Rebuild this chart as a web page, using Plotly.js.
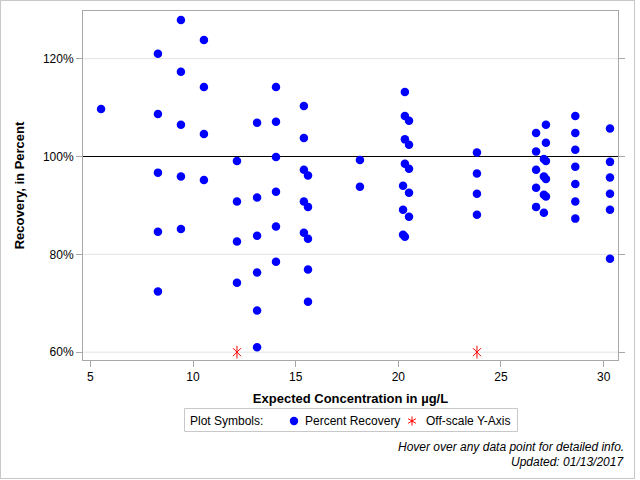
<!DOCTYPE html>
<html>
<head>
<meta charset="utf-8">
<script src="https://cdn.plot.ly/plotly-3.0.1.min.js"></script>
<style>
  html, body { margin: 0; padding: 0; background: #fff; }
  #wrap { position: relative; width: 640px; height: 480px; }
  #chart { width: 640px; height: 480px; }
  #frame { position: absolute; left: 0; top: 0; width: 633px; height: 477px;
           border: 1px solid #c8c8c8; pointer-events: none; }
</style>
</head>
<body>
<div id="wrap">
  <div id="chart"></div>
  <div id="frame"></div>
</div>
<script>
// Expected concentration (µg/L) for each spiked sample
const recoveryConc = [
  5.52,
  8.29, 8.29, 8.29, 8.29, 8.29,
  9.41, 9.41, 9.41, 9.41, 9.41,
  10.53, 10.53, 10.53, 10.53,
  12.14, 12.14, 12.14, 12.14,
  13.12, 13.12, 13.12, 13.12, 13.12, 13.12,
  14.04, 14.04, 14.04, 14.04, 14.04, 14.04,
  15.40, 15.40, 15.40, 15.40, 15.40,
  15.60, 15.60, 15.60, 15.60, 15.60,
  18.13, 18.13,
  20.23, 20.23, 20.23,
  20.32, 20.32, 20.32, 20.32, 20.32,
  20.52, 20.52, 20.52, 20.52, 20.52,
  23.83, 23.83, 23.83, 23.83,
  26.71, 26.71, 26.71, 26.71, 26.71,
  27.09, 27.09, 27.09, 27.09,
  27.19, 27.19, 27.19, 27.19, 27.19,
  28.62, 28.62, 28.62, 28.62, 28.62, 28.62, 28.62,
  30.31, 30.31, 30.31, 30.31, 30.31, 30.31
];

// Percent recovery measured for each sample
const recoveryPct = [
  109.7,
  121.0, 108.7, 96.7, 84.6, 72.4,
  127.9, 117.3, 106.5, 95.9, 85.2,
  123.8, 114.2, 104.6, 95.2,
  99.1, 90.8, 82.6, 74.2,
  106.9, 91.6, 83.8, 76.3, 68.5, 61.0,
  114.2, 107.1, 99.9, 92.8, 85.7, 78.5,
  110.3, 103.8, 97.3, 90.8, 84.4,
  96.1, 89.7, 83.2, 76.9, 70.3,
  99.3, 93.8,
  94.0, 89.1, 84.0,
  113.2, 108.3, 103.5, 98.5, 83.6,
  107.3, 102.4, 97.5, 92.6, 87.7,
  100.8, 96.5, 92.4, 88.1,
  104.8, 101.0, 97.3, 93.6, 89.7,
  99.5, 95.9, 92.2, 88.5,
  106.5, 102.8, 99.1, 95.4, 91.8,
  108.3, 104.8, 101.4, 97.9, 94.4, 90.8, 87.3,
  105.7, 98.9, 95.7, 92.4, 89.1, 79.1
];

// Samples whose recovery falls below the plotted range, pinned to the floor
const offscaleConc = [12.14, 23.83];
const offscalePct = [60, 60];

const yTickVals = [60, 80, 100, 120];
const yTickText = yTickVals.map(v => v + '%');
const xTickVals = [5, 10, 15, 20, 25, 30];
const targetPct = 100;

const legendLabels = ['Percent Recovery', 'Off-scale Y-Axis'];

const font = "Arial, 'Liberation Sans', sans-serif";
const BLUE = '#0000ff';
const RED = '#ff0000';

// plot-area geometry in pixels, used to place the key below the axes
const M = { l: 83, r: 22, t: 11, b: 120 };
const PW = 640 - M.l - M.r, PH = 480 - M.t - M.b;
const px = x => (x - M.l) / PW;
const py = y => (480 - M.b - y) / PH;

const traces = [
  {
    type: 'scatter', mode: 'markers', name: legendLabels[0],
    x: recoveryConc, y: recoveryPct,
    marker: { color: BLUE, size: 8.5, symbol: 'circle' },
    hovertemplate: 'Expected: %{x} µg/L<br>Recovery: %{y}%<extra></extra>'
  },
  // six-spoke asterisk: a vertical stroke plus a thin X
  {
    type: 'scatter', mode: 'markers', name: legendLabels[1],
    x: offscaleConc, y: offscalePct, legendgroup: 'off',
    marker: { color: RED, size: 9, symbol: 'line-ns-open',
              line: { color: RED, width: 1 } },
    hovertemplate: 'Expected: %{x} µg/L<br>Off-scale recovery<extra></extra>'
  },
  {
    type: 'scatter', mode: 'markers', name: legendLabels[1],
    x: offscaleConc, y: offscalePct, legendgroup: 'off', showlegend: false,
    marker: { color: RED, size: 8, symbol: 'x-thin-open',
              line: { color: RED, width: 1 } },
    hoverinfo: 'skip'
  }
];

// horizontal grid under the markers; the target level is drawn in black
const shapes = yTickVals.filter(v => v !== targetPct).map(v => ({
  type: 'line', xref: 'paper', x0: 0, x1: 1, yref: 'y', y0: v, y1: v,
  line: { color: '#e2e2e2', width: 1 }, layer: 'below'
}));
shapes.push({ type: 'line', xref: 'paper', x0: 0, x1: 1, yref: 'y', y0: targetPct, y1: targetPct,
  line: { color: '#000', width: 1 }, layer: 'below' });

// key box: frame, caption, symbols and labels
const keyY = 421;
shapes.push(
  { type: 'rect', xref: 'paper', yref: 'paper',
    x0: px(184.5), x1: px(517.5), y0: py(408.5), y1: py(431.5),
    line: { color: '#c8c8c8', width: 1 }, fillcolor: 'rgba(0,0,0,0)' },
  { type: 'circle', xref: 'paper', yref: 'paper',
    xsizemode: 'pixel', ysizemode: 'pixel', xanchor: px(294), yanchor: py(keyY),
    x0: -4.2, x1: 4.2, y0: -4.2, y1: 4.2,
    fillcolor: BLUE, line: { width: 0 } }
);
// red asterisk in the key: three strokes through one centre
[[0, -4.5, 0, 4.5], [-3.9, -2.25, 3.9, 2.25], [-3.9, 2.25, 3.9, -2.25]].forEach(s => {
  shapes.push({ type: 'line', xref: 'paper', yref: 'paper',
    xsizemode: 'pixel', ysizemode: 'pixel', xanchor: px(412), yanchor: py(keyY),
    x0: s[0], y0: s[1], x1: s[2], y1: s[3],
    line: { color: RED, width: 1 } });
});

const keyText = (x, text) => ({
  xref: 'paper', yref: 'paper', x: px(x), y: py(keyY), xanchor: 'left', yanchor: 'middle',
  showarrow: false, text: text, font: { family: font, size: 12, color: '#000' }
});

const layout = {
  width: 640, height: 480,
  margin: M,
  paper_bgcolor: '#ffffff', plot_bgcolor: '#ffffff',
  font: { family: font, size: 12, color: '#000' },
  showlegend: false,
  xaxis: {
    range: [4.64, 30.70], tickvals: xTickVals,
    showgrid: false, zeroline: false,
    showline: true, linecolor: '#a8a8a8', linewidth: 1, mirror: true,
    ticks: 'outside', ticklen: 6, tickcolor: '#a8a8a8',
    tickfont: { family: font, size: 12, color: '#000' },
    title: { text: 'Expected Concentration in µg/L', standoff: 10,
             font: { family: font, size: 13, color: '#000', weight: 'bold' } }
  },
  yaxis: {
    range: [58.4, 129.74], tickvals: yTickVals, ticktext: yTickText,
    showgrid: false, zeroline: false,
    showline: true, linecolor: '#a8a8a8', linewidth: 1, mirror: 'ticks',
    ticks: 'outside', ticklen: 6, tickcolor: '#a8a8a8',
    tickfont: { family: font, size: 12, color: '#000' },
    title: { text: 'Recovery, in Percent', standoff: 15,
             font: { family: font, size: 13, color: '#000', weight: 'bold' } }
  },
  shapes: shapes,
  annotations: [
    keyText(188, 'Plot Symbols:'),
    keyText(303, legendLabels[0]),
    keyText(424, legendLabels[1]),
    { xref: 'paper', yref: 'paper', x: px(626), y: py(447),
      xanchor: 'right', yanchor: 'middle', showarrow: false,
      text: '<i>Hover over any data point for detailed info.</i>',
      font: { family: font, size: 12, color: '#000' } },
    { xref: 'paper', yref: 'paper', x: px(626), y: py(462),
      xanchor: 'right', yanchor: 'middle', showarrow: false,
      text: '<i>Updated: 01/13/2017</i>',
      font: { family: font, size: 12, color: '#000' } }
  ],
  hovermode: 'closest'
};

Plotly.newPlot('chart', traces, layout, { displayModeBar: false, responsive: false });
</script>
</body>
</html>
